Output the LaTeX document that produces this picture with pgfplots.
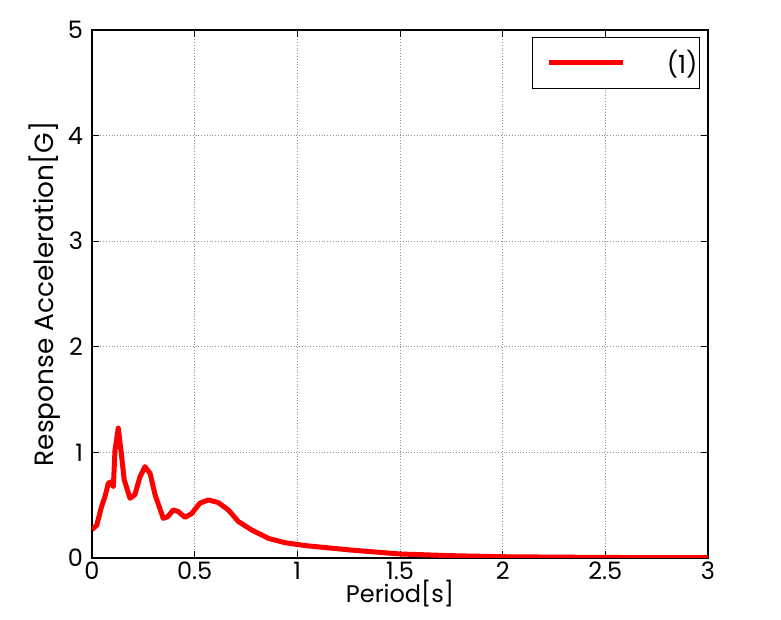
\documentclass[border=0pt]{standalone}
\usepackage{fontspec}
\setmainfont{Poppins}
\usepackage{pgfplots}
\pgfplotsset{compat=1.18}
\begin{document}
\begin{tikzpicture}
\useasboundingbox (-46pt,-31pt) rectangle (344.5pt,279pt);
\begin{axis}[
  at={(0,0)}, anchor=south west,
  scale only axis, width=308pt, height=264pt,
  xmin=0, xmax=3, ymin=0, ymax=5,
  xtick={0,0.5,1,1.5,2,2.5,3},
  xticklabels={0,0.5,1,1.5,2,2.5,3},
  ytick={0,1,2,3,4,5},
  yticklabels={0,1,2,3,4,5},
  tick align=inside,
  major tick length=3.5pt,
  tick style={black, line width=0.5pt},
  axis line style={line width=0.6pt},
  grid=major,
  grid style={densely dotted, gray!85, line width=0.4pt},
  ticklabel style={font=\fontsize{12}{14}\selectfont},
  xticklabel style={yshift=1.5pt},
  yticklabel style={xshift=-1pt},
  xlabel style={font=\fontsize{12}{14}\selectfont, yshift=7pt},
  ylabel style={font=\fontsize{13.2}{15}\selectfont, yshift=-3pt},
  xlabel={Period[s]},
  ylabel={Response Acceleration[G]},
  /pgf/number format/assume math mode=true,
  legend style={at={(1,1)}, xshift=-4pt, yshift=-3.5pt, anchor=north east,
    draw=black, line width=0.5pt, inner xsep=0pt, inner ysep=0pt,
    column sep=0pt,
    font=\fontsize{12.5}{14}\selectfont,
    nodes={inner xsep=0pt, inner ysep=0pt, minimum height=25.5pt}},
  legend image code/.code={\path (0pt,0pt); \draw[#1, line width=2.5pt] (7pt,0pt) -- (44pt,0pt);},
  legend cell align=right,
]
\addplot[red, line width=2.5pt, line join=round] coordinates {
(0.0,0.27) (0.023,0.31) (0.047,0.49) (0.063,0.58) (0.08,0.71) (0.093,0.72)
(0.104,0.675) (0.112,1.02) (0.128,1.23) (0.141,1.02) (0.157,0.74) (0.185,0.565)
(0.209,0.6) (0.234,0.77) (0.258,0.865) (0.283,0.80) (0.307,0.60) (0.347,0.375)
(0.368,0.39) (0.396,0.455) (0.42,0.44) (0.453,0.385) (0.485,0.42) (0.526,0.52)
(0.567,0.55) (0.615,0.525) (0.664,0.455) (0.713,0.345) (0.778,0.265) (0.859,0.186)
(0.94,0.145) (1.04,0.117) (1.257,0.076) (1.5,0.038) (1.75,0.022) (2.0,0.012)
(2.5,0.005) (3.0,0.003)
};
\addlegendentry{\makebox[37pt][r]{(1)\hspace*{1pt}}}
\end{axis}
\end{tikzpicture}
\end{document}
